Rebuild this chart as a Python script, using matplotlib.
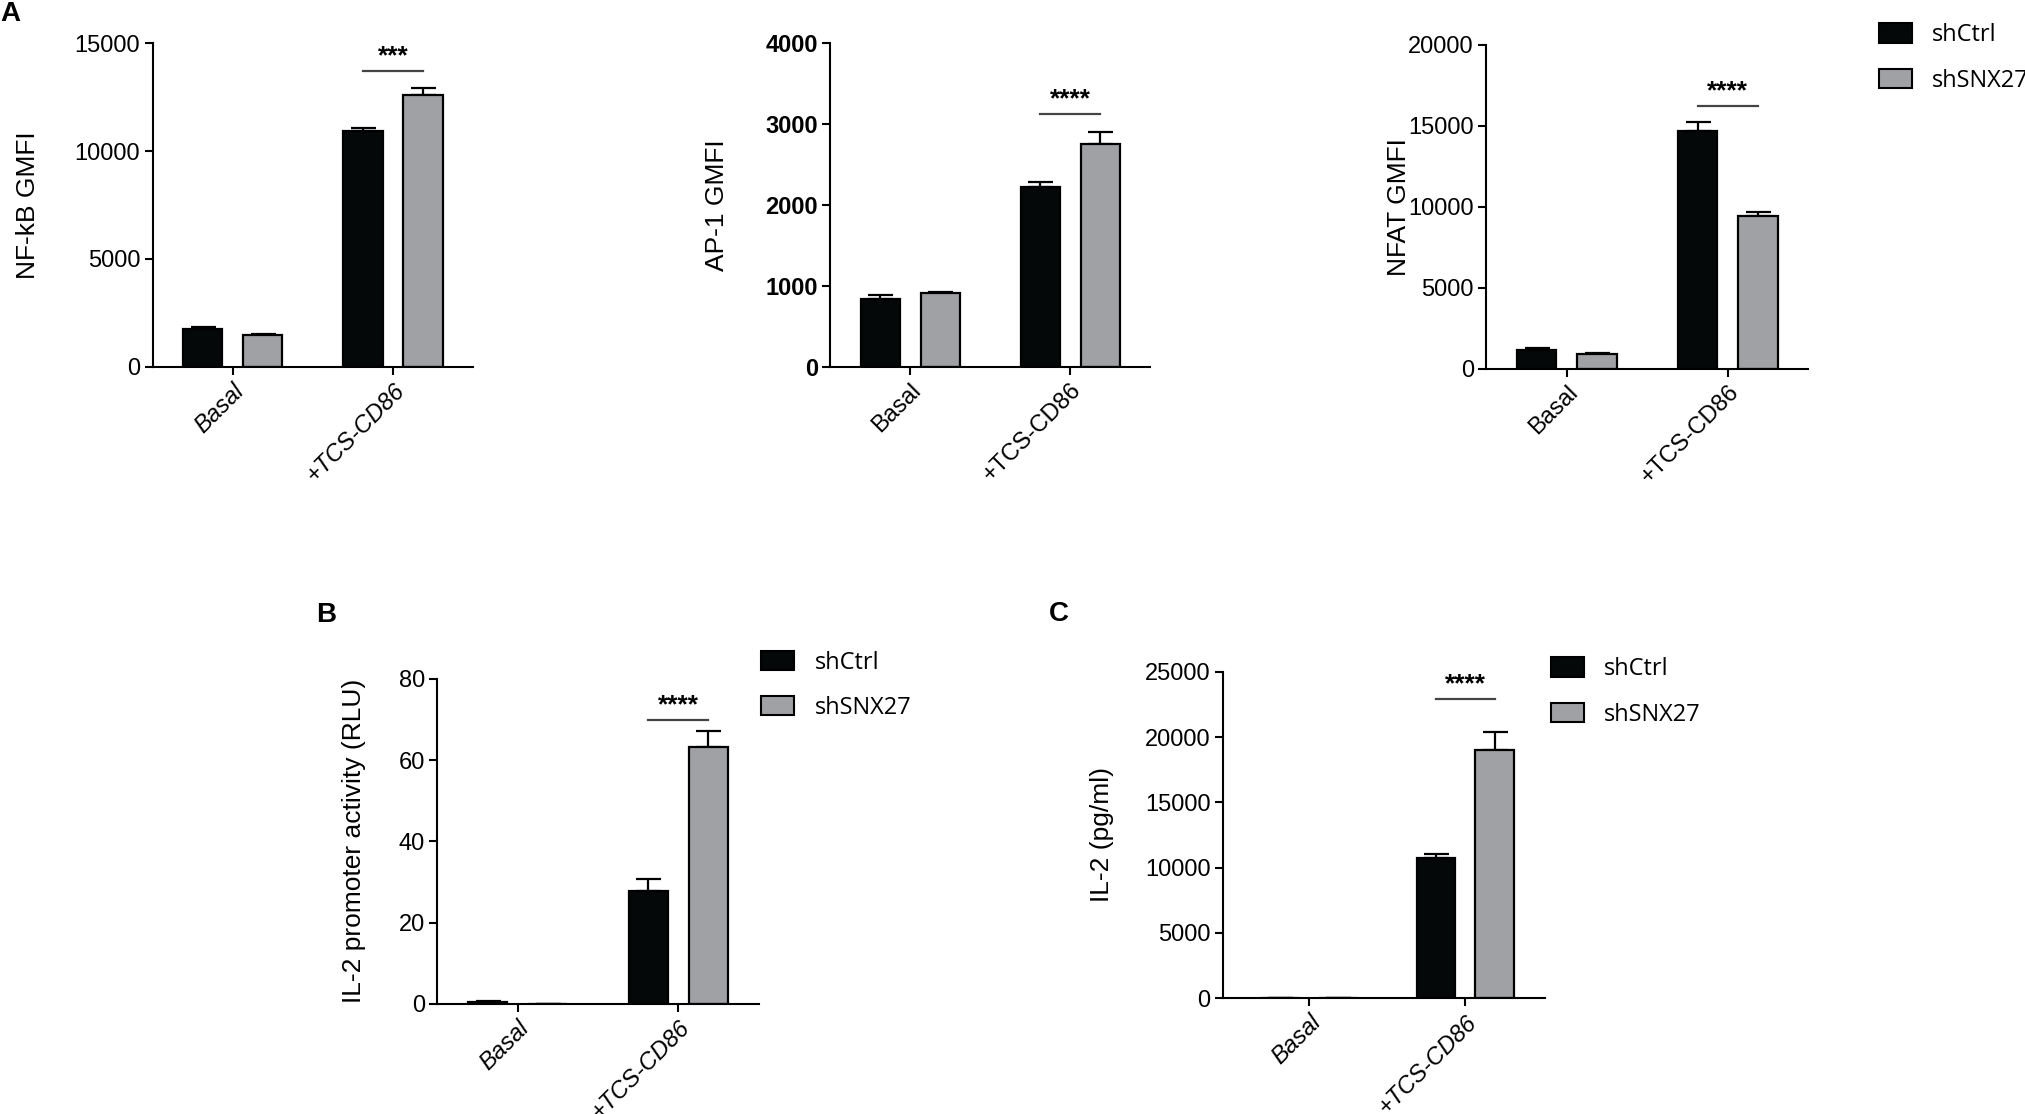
import numpy as np
import matplotlib
matplotlib.use("Agg")
import matplotlib.pyplot as plt
from matplotlib.patches import Patch

plt.rcParams['font.family'] = ['Liberation Sans', 'DejaVu Sans']

# data
groups = ['Basal', '+TCS-CD86']

nfkb_ctrl = [1730, 10930]
nfkb_ctrl_err = [125, 155]
nfkb_snx = [1470, 12600]
nfkb_snx_err = [30, 340]

ap1_ctrl = [841, 2219]
ap1_ctrl_err = [46, 61]
ap1_snx = [907, 2759]
ap1_snx_err = [17, 140]

nfat_ctrl = [1134, 14640]
nfat_ctrl_err = [144, 557]
nfat_snx = [887, 9400]
nfat_snx_err = [103, 270]

il2p_ctrl = [0.3, 27.7]
il2p_ctrl_err = [0.25, 3.1]
il2p_snx = [0.05, 63.2]
il2p_snx_err = [0.0, 4.1]

il2_ctrl = [15, 10770]
il2_ctrl_err = [0, 236]
il2_snx = [10, 18990]
il2_snx_err = [0, 1420]

BLACK = '#050808'
GREY = '#a0a1a5'
W = 0.245
OFF = 0.187


def draw_panel(ax, ctrl, ctrl_err, snx, snx_err, ymax, step, ylabel, stars, star_y,
               label_x, tick_bold=False, cat_italic=True, xlim=(-0.5, 1.5)):
    x = np.arange(len(groups))
    for xs, vals, errs, col in [(x - OFF, ctrl, ctrl_err, BLACK), (x + OFF, snx, snx_err, GREY)]:
        ax.errorbar(xs, vals, yerr=[np.zeros(len(errs)), errs], fmt='none', ecolor='black',
                    elinewidth=1.6, capsize=9, capthick=1.6, zorder=1)
        ax.bar(xs, vals, width=W, color=col, edgecolor='black', linewidth=1.6, zorder=2)

    # significance bar over the stimulated group
    ax.plot([1 - OFF, 1 + OFF], [star_y, star_y], color='#444444', lw=1.6, clip_on=False)
    ax.text(1, star_y + ymax * 0.008, stars, ha='center', va='bottom', fontsize=19,
            fontweight='bold')

    ax.set_xlim(*xlim)
    ax.set_ylim(0, ymax)
    ax.set_yticks(np.arange(0, ymax + 1, step))
    ax.set_xticks(x)
    ax.set_xticklabels(groups, rotation=45, ha='right', rotation_mode='anchor',
                       fontsize=17, style='italic' if cat_italic else 'normal')
    for s in ['top', 'right']:
        ax.spines[s].set_visible(False)
    for s in ['left', 'bottom']:
        ax.spines[s].set_linewidth(1.5)
    ax.tick_params(axis='both', direction='out', width=1.5, length=6, pad=3)
    ax.tick_params(axis='y', labelsize=17)
    if tick_bold:
        for t in ax.get_yticklabels():
            t.set_fontweight('bold')
    ax.set_ylabel(ylabel, fontsize=19)
    ax.yaxis.set_label_coords(label_x, 0.5)


def add_legend(fig, x, y):
    handles = [Patch(facecolor=BLACK, edgecolor='black', lw=1.5, label='shCtrl'),
               Patch(facecolor=GREY, edgecolor='black', lw=1.5, label='shSNX27')]
    fig.legend(handles=handles, loc='upper left', bbox_to_anchor=(x, y), frameon=False,
               prop={'family': 'Open Sans', 'size': 17}, handlelength=1.4,
               handleheight=0.9, handletextpad=0.85, labelspacing=0.9,
               borderpad=0, borderaxespad=0)


fig = plt.figure(figsize=(20.25, 11.14), dpi=100)

ax1 = fig.add_axes([0.0754, 0.671, 0.1583, 0.290])
draw_panel(ax1, nfkb_ctrl, nfkb_ctrl_err, nfkb_snx, nfkb_snx_err, 15000, 5000,
           'NF-kB GMFI', '***', 13717, -0.351)

ax2 = fig.add_axes([0.410, 0.671, 0.158, 0.290])
draw_panel(ax2, ap1_ctrl, ap1_ctrl_err, ap1_snx, ap1_snx_err, 4000, 1000,
           'AP-1 GMFI', '****', 3130, -0.317, tick_bold=True, cat_italic=False)

ax3 = fig.add_axes([0.734, 0.669, 0.159, 0.291])
draw_panel(ax3, nfat_ctrl, nfat_ctrl_err, nfat_snx, nfat_snx_err, 20000, 5000,
           'NFAT GMFI', '****', 16186, -0.235, cat_italic=False)
add_legend(fig, 0.928, 0.979)

ax4 = fig.add_axes([0.216, 0.099, 0.1586, 0.2915])
draw_panel(ax4, il2p_ctrl, il2p_ctrl_err, il2p_snx, il2p_snx_err, 80, 20,
           'IL-2 promoter activity (RLU)', '****', 70, -0.221)
add_legend(fig, 0.376, 0.416)

ax5 = fig.add_axes([0.604, 0.104, 0.159, 0.293])
draw_panel(ax5, il2_ctrl, il2_ctrl_err, il2_snx, il2_snx_err, 25000, 5000,
           'IL-2 (pg/ml)', '****', 22925, -0.339, xlim=(-0.55, 1.51))
add_legend(fig, 0.766, 0.410)

# panel letters
fig.text(0.0, 0.987, 'A', fontsize=20, fontweight='bold', ha='left', va='center')
fig.text(0.156, 0.448, 'B', fontsize=20, fontweight='bold', ha='left', va='center')
fig.text(0.518, 0.449, 'C', fontsize=20, fontweight='bold', ha='left', va='center')

fig.savefig('out.png', dpi=100, facecolor='white')
